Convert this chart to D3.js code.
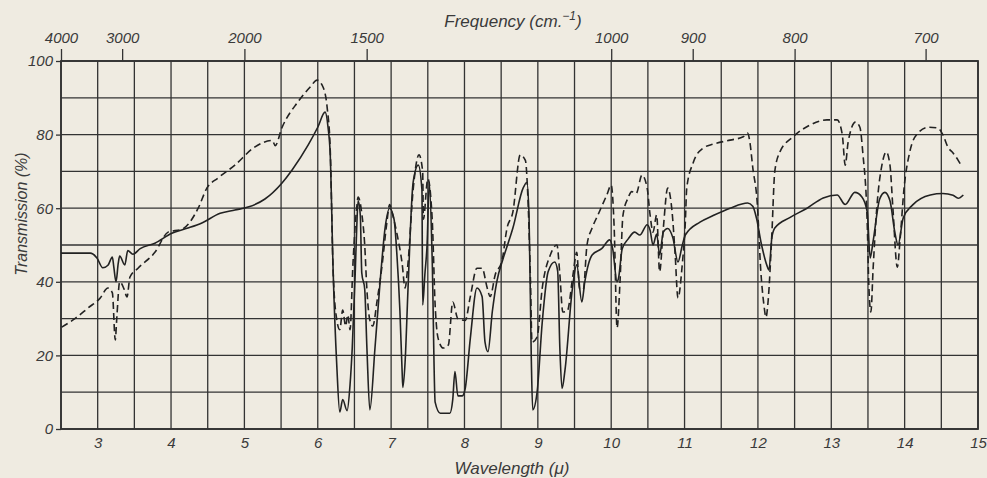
<!DOCTYPE html>
<html>
<head>
<meta charset="utf-8">
<script src="https://d3js.org/d3.v7.min.js"></script>
<style>
    body { margin: 0; background: #efebe1; }
    svg { display: block; }
    text { font-family: "Liberation Sans", Arial, sans-serif; font-style: italic; fill: #3a3a3a; }
</style>
</head>
<body>
<svg id="chart" width="987" height="478"></svg>
<script>
// wavelength (micron) ticks along the bottom
var wavelengthTicks = [3, 4, 5, 6, 7, 8, 9, 10, 11, 12, 13, 14, 15];
// frequency (cm-1) ticks along the top
var frequencyTicks = [4000, 3000, 2000, 1500, 1000, 900, 800, 700];
var transmissionTicks = [0, 20, 40, 60, 80, 100];

// solid trace: [wavelength, transmission %]
var solidWave = [2.5, 2.9, 2.99, 3.07, 3.14, 3.2, 3.22, 3.25, 3.28, 3.3, 3.37, 3.41, 3.48, 3.58, 3.78, 4.01, 4.23, 4.42, 4.67, 4.87, 5.05, 5.28, 5.51, 5.65, 5.87, 6.0, 6.1, 6.14, 6.17, 6.21, 6.26, 6.3, 6.34, 6.4, 6.44, 6.47, 6.51, 6.53, 6.55, 6.58, 6.6, 6.64, 6.67, 6.71, 6.78, 6.85, 6.92, 6.98, 7.04, 7.08, 7.12, 7.15, 7.16, 7.19, 7.23, 7.3, 7.37, 7.42, 7.43, 7.46, 7.49, 7.52, 7.56, 7.6, 7.67, 7.8, 7.84, 7.87, 7.91, 7.97, 8.01, 8.08, 8.17, 8.24, 8.28, 8.32, 8.38, 8.44, 8.53, 8.66, 8.8, 8.85, 8.88, 8.91, 8.93, 8.99, 9.06, 9.14, 9.23, 9.27, 9.3, 9.33, 9.37, 9.47, 9.53, 9.6, 9.64, 9.74, 9.87, 9.98, 10.02, 10.08, 10.1, 10.15, 10.23, 10.32, 10.39, 10.49, 10.53, 10.57, 10.62, 10.66, 10.71, 10.77, 10.84, 10.91, 10.97, 11.01, 11.21, 11.39, 11.62, 11.86, 11.93, 11.98, 12.05, 12.12, 12.15, 12.19, 12.23, 12.44, 12.67, 12.89, 13.08, 13.19, 13.32, 13.42, 13.49, 13.53, 13.57, 13.66, 13.73, 13.8, 13.87, 13.91, 13.98, 14.11, 14.35, 14.52, 14.66, 14.73, 14.8];
var solidTrans = [47.8, 47.8, 46.5, 43.8, 44.5, 46.7, 44, 40, 45, 47, 44.6, 48.5, 47.5, 49, 50.5, 53.2, 54.6, 56, 58.6, 59.5, 60.3, 62.5, 66.8, 70.4, 77.2, 82, 86.1, 82, 74.5, 42.7, 17, 4.6, 8, 5, 12, 22, 42, 54, 62, 58, 42.4, 38, 22, 5.2, 22, 40, 55, 60, 57, 47, 32, 15.6, 11.3, 18, 38, 67, 71.7, 65, 33.7, 42, 50, 67, 46, 7.3, 4.3, 4.3, 8, 15.6, 9, 9, 11, 24.7, 38.3, 36, 23.6, 21, 32, 40, 46.5, 54.6, 65.5, 67, 58, 20, 5.2, 10, 29, 42.7, 45.4, 43, 22, 11, 16, 38, 44.6, 34.5, 40, 47.3, 49, 51.4, 49, 40, 41, 49, 51.6, 53.5, 52.7, 55.5, 54, 50, 53, 47.3, 53.5, 54.5, 52, 45.4, 50, 52.7, 56.2, 58, 60, 61.4, 60.5, 57.3, 50, 44.6, 43.2, 52, 54.6, 57.5, 60, 62.8, 63.6, 61, 64.3, 63, 59, 46.5, 51, 62.5, 64.3, 62, 53, 50, 57.3, 60.9, 63.6, 64, 63.5, 62.7, 63.6];

// dashed trace: [wavelength, transmission %]
var dashedWave = [2.51, 2.69, 2.87, 3.03, 3.14, 3.2, 3.24, 3.26, 3.3, 3.36, 3.4, 3.44, 3.55, 3.78, 3.96, 4.15, 4.37, 4.49, 4.64, 4.87, 5.14, 5.38, 5.42, 5.51, 5.73, 5.9, 5.99, 6.07, 6.13, 6.17, 6.21, 6.26, 6.3, 6.34, 6.38, 6.41, 6.44, 6.48, 6.53, 6.55, 6.6, 6.64, 6.67, 6.71, 6.75, 6.81, 6.88, 6.94, 6.98, 7.01, 7.08, 7.15, 7.19, 7.23, 7.3, 7.38, 7.43, 7.44, 7.5, 7.56, 7.6, 7.64, 7.71, 7.78, 7.84, 7.91, 8.01, 8.08, 8.17, 8.24, 8.31, 8.35, 8.42, 8.51, 8.58, 8.66, 8.76, 8.83, 8.87, 8.9, 8.92, 8.99, 9.06, 9.17, 9.26, 9.3, 9.34, 9.4, 9.48, 9.53, 9.57, 9.62, 9.67, 9.74, 9.82, 9.94, 10.0, 10.04, 10.08, 10.12, 10.16, 10.23, 10.28, 10.34, 10.42, 10.49, 10.53, 10.57, 10.62, 10.66, 10.71, 10.77, 10.83, 10.87, 10.91, 10.97, 11.01, 11.03, 11.12, 11.25, 11.39, 11.62, 11.8, 11.86, 11.89, 11.93, 11.99, 12.04, 12.08, 12.11, 12.14, 12.19, 12.23, 12.3, 12.48, 12.71, 12.94, 13.08, 13.15, 13.19, 13.23, 13.33, 13.39, 13.43, 13.49, 13.51, 13.54, 13.57, 13.62, 13.69, 13.75, 13.8, 13.84, 13.9, 13.94, 13.99, 14.07, 14.18, 14.33, 14.45, 14.52, 14.59, 14.66, 14.73, 14.77];
var dashedTrans = [27.7, 30, 32.9, 35.5, 38.3, 37, 24.2, 30, 40, 38, 35.9, 41.3, 43.7, 48, 53.5, 54.3, 60, 65.5, 68.2, 71.7, 76.6, 78.4, 77, 81.8, 88.9, 93, 94.8, 93, 87, 76, 42.5, 29.6, 27, 32.3, 28, 31, 27, 45, 60, 63, 58.6, 50, 37.8, 29.6, 28, 35, 45, 55.8, 61, 59, 53, 45, 38.3, 45, 65, 74.5, 70, 57, 68, 57, 33.7, 24.7, 22, 22.8, 34.5, 30, 29.5, 36, 43.7, 43.7, 38.3, 36, 42, 45.6, 54.6, 59, 74.5, 73, 60, 40, 23.6, 25, 38.3, 47.3, 50, 42, 31.8, 32, 42, 48, 38, 38, 50, 54.6, 58.2, 63.6, 66.3, 55, 27.5, 40, 58, 62.8, 64.5, 64, 69, 65.5, 58.2, 53.5, 58.2, 42.7, 54.5, 65.5, 59, 48, 35.6, 45, 56, 65.5, 72.5, 76.3, 77.4, 78.5, 79.4, 80.4, 78, 71, 61.6, 42.7, 34, 30.4, 35, 53, 70, 75.3, 79.4, 82.6, 84, 84, 80, 71.7, 78, 83.4, 82, 75, 56, 40, 31.8, 43.5, 60, 71.7, 75.3, 71.7, 60, 44, 52, 65, 75.3, 80.4, 82, 81.8, 80, 76.6, 75, 73, 71.7];

var margin = { top: 61, right: 9, bottom: 49, left: 61 },
    width = 987 - margin.left - margin.right,
    height = 478 - margin.top - margin.bottom,
    ink = "#333";

var svg = d3.select("#chart"),
    g = svg.append("g").attr("transform", "translate(" + margin.left + "," + margin.top + ")");

var x = d3.scaleLinear().domain([2.5, 15]).range([0, width]),
    y = d3.scaleLinear().domain([0, 100]).range([height, 0]);

// grid: every half micron, every 10 %
g.append("g")
    .selectAll("line")
    .data(d3.range(2.5, 15.01, 0.5))
    .enter()
    .append("line")
    .attr("x1", function (d) { return x(d); })
    .attr("x2", function (d) { return x(d); })
    .attr("y1", 0)
    .attr("y2", height)
    .attr("stroke", ink)
    .attr("stroke-width", 1.3);

g.append("g")
    .selectAll("line")
    .data(d3.range(0, 101, 10))
    .enter()
    .append("line")
    .attr("x1", 0)
    .attr("x2", width)
    .attr("y1", function (d) { return y(d); })
    .attr("y2", function (d) { return y(d); })
    .attr("stroke", ink)
    .attr("stroke-width", 1.3);

g.append("rect")
    .attr("width", width)
    .attr("height", height)
    .attr("fill", "none")
    .attr("stroke", ink)
    .attr("stroke-width", 1.8);

// axes
var bottomAxis = d3.axisBottom(x).tickValues(wavelengthTicks).tickSize(0).tickPadding(8);
var topAxis = d3.axisTop(x)
    .tickValues(frequencyTicks.map(function (f) { return 1e4 / f; }))
    .tickFormat(function (d, i) { return frequencyTicks[i]; })
    .tickSize(12)
    .tickPadding(6);
var leftAxis = d3.axisLeft(y).tickValues(transmissionTicks).tickSize(5).tickPadding(3);

function styleAxis(sel) {
    sel.select(".domain").remove();
    sel.selectAll("line").attr("stroke", ink).attr("stroke-width", 1.3);
    sel.selectAll("text").attr("fill", ink).style("font-size", "15px");
}

g.append("g").attr("transform", "translate(0," + height + ")").call(bottomAxis).call(styleAxis);
g.append("g").call(topAxis).call(styleAxis);
g.append("g").call(leftAxis).call(styleAxis);

// traces
var line = d3.line()
    .x(function (d) { return x(d[0]); })
    .y(function (d) { return y(d[1]); })
    .curve(d3.curveMonotoneX);

g.append("path")
    .datum(d3.zip(solidWave, solidTrans))
    .attr("d", line)
    .attr("fill", "none")
    .attr("stroke", "#222")
    .attr("stroke-width", 1.6);

g.append("path")
    .datum(d3.zip(dashedWave, dashedTrans))
    .attr("d", line)
    .attr("fill", "none")
    .attr("stroke", "#222")
    .attr("stroke-width", 1.6)
    .attr("stroke-dasharray", "7,4");

// titles
var freqTitle = svg.append("text")
    .attr("x", 513)
    .attr("y", 27)
    .attr("text-anchor", "middle")
    .style("font-size", "17px")
    .text("Frequency (cm.");
freqTitle.append("tspan").attr("dy", -7).style("font-size", "12px").text("\u22121");
freqTitle.append("tspan").attr("dy", 7).text(")");

svg.append("text")
    .attr("x", 512)
    .attr("y", 474)
    .attr("text-anchor", "middle")
    .style("font-size", "17px")
    .text("Wavelength (\u03bc)");

svg.append("text")
    .attr("transform", "translate(27,214) rotate(-90)")
    .attr("text-anchor", "middle")
    .style("font-size", "16px")
    .text("Transmission (%)");
</script>
</body>
</html>
